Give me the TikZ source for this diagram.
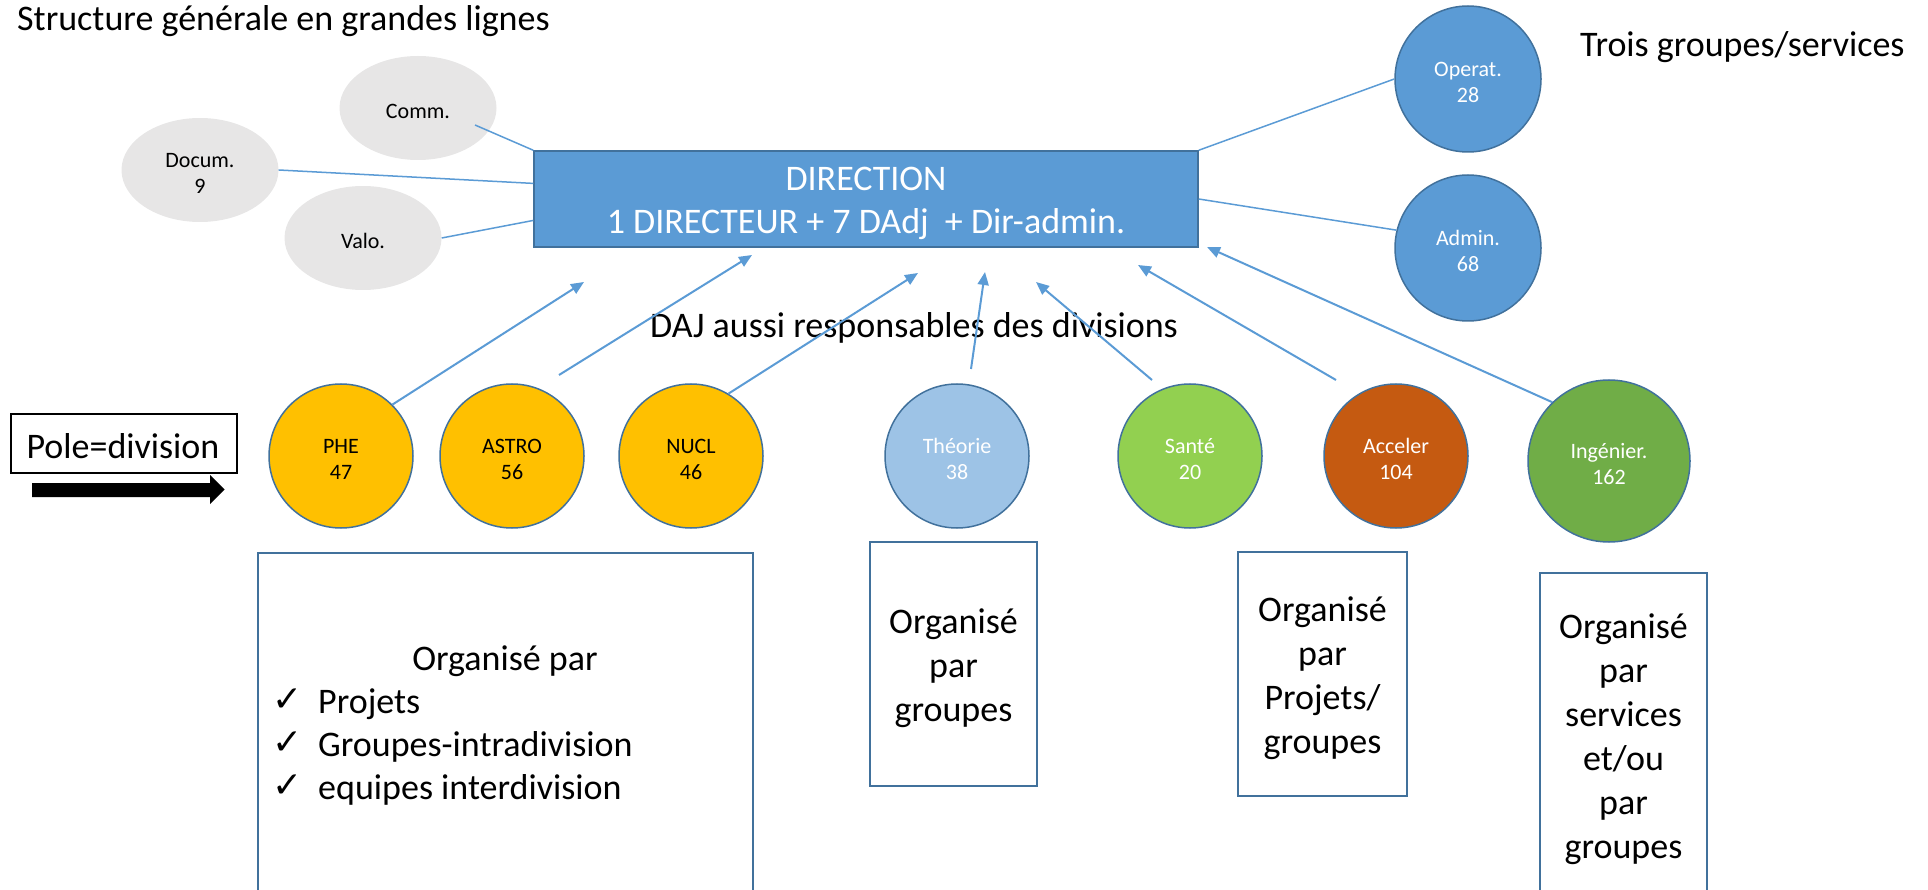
\documentclass[tikz,border=0pt]{standalone}
\usepackage{fontspec}
\setmainfont{Carlito}
\newfontfamily\symfont{DejaVu Sans}
\usetikzlibrary{shapes.geometric,arrows.meta,calc}
\definecolor{blueF}{HTML}{5B9BD5}
\definecolor{blueD}{HTML}{41719C}
\definecolor{greyF}{HTML}{E7E6E6}
\definecolor{goldF}{HTML}{FFC000}
\definecolor{lblueF}{HTML}{9DC3E6}
\definecolor{lgreenF}{HTML}{92D050}
\definecolor{orangeF}{HTML}{C55A11}
\definecolor{greenF}{HTML}{70AD47}
\begin{document}
\begin{tikzpicture}[x=1pt,y=-1pt,
  big/.style={font=\fontsize{36}{43}\selectfont},
  boxtxt/.style={font=\fontsize{36}{44}\selectfont, align=center},
  small/.style={font=\fontsize{22}{26}\selectfont, align=center},
  greyell/.style={ellipse, fill=greyF, minimum width=157pt, minimum height=104pt, inner sep=0pt},
  divc/.style={circle, draw=blueD, line width=1.5pt, minimum size=144pt, inner sep=0pt},
  link/.style={blueF, line width=1.5pt},
  arr/.style={blueF, line width=2pt, -{Triangle[length=13pt,width=11pt]}},
  tbox/.style={draw=blueD, line width=2pt, inner sep=0pt},
  ck/.style={font=\symfont\fontsize{36}{40}\selectfont, anchor=base west, inner sep=0pt}]
\useasboundingbox (0,0) rectangle (1928,890);
\clip (0,0) rectangle (1928,890);

% titles
\node[big, anchor=base west, inner sep=0pt] (title) at (17,31) {Structure générale en grandes lignes};
\node[big, anchor=base west, inner sep=0pt] (trois) at (1580,57) {Trois groupes/services};
\node[big, anchor=base west, inner sep=0pt] (daj) at (650,338) {DAJ aussi responsables des divisions};

% side services
\node[greyell] (comm) at (418,108) {};
\node[greyell] (docum) at (200,170) {};
\node[greyell] (valo) at (363,238) {};
\node[small] (commT) at ($(comm)+(0,3)$) {Comm.};
\node[small] (documT) at ($(docum)+(0,3)$) {Docum.\\9};
\node[small] (valoT) at ($(valo)+(0,3)$) {Valo.};

% direction
\node[rectangle, fill=blueF, draw=blueD, line width=1.5pt, minimum width=664pt, minimum height=96pt] (dir) at (866,199) {};
\node[text=white, align=center, big] (dirT) at ($(dir)+(0,4)$) {DIRECTION\\1 DIRECTEUR + 7 DAdj~~+ Dir-admin.};

\node[divc, fill=blueF, minimum size=146pt] (operat) at (1468,79) {};
\node[divc, fill=blueF, minimum size=146pt] (admin) at (1468,248) {};
\node[small, text=white] (operatT) at ($(operat)+(0,3)$) {Operat.\\28};
\node[small, text=white] (adminT) at ($(admin)+(0,3)$) {Admin.\\68};

% pole = division
\node[draw=black, line width=1.2pt, minimum width=226pt, minimum height=59pt] (pole) at (124,443.5) {};
\node[big] (poleT) at ($(pole)+(-1,3)$) {Pole=division};
\fill[black] (32,483) -- (210,483) -- (210,475) -- (224.5,489.5) -- (210,504) -- (210,497) -- (32,497) -- cycle;

% divisions
\node[divc, fill=goldF] (phe) at (341,456) {};
\node[divc, fill=goldF] (astro) at (512,456) {};
\node[divc, fill=goldF] (nucl) at (691,456) {};
\node[divc, fill=lblueF] (theo) at (957,456) {};
\node[divc, fill=lgreenF] (sante) at (1190,456) {};
\node[divc, fill=orangeF] (acc) at (1396,456) {};
\node[divc, fill=greenF, minimum size=162pt] (ing) at (1609,461) {};
\node[small] (pheT) at ($(phe)+(0,3)$) {PHE\\47};
\node[small] (astroT) at ($(astro)+(0,3)$) {ASTRO\\56};
\node[small] (nuclT) at ($(nucl)+(0,3)$) {NUCL\\46};
\node[small, text=white] (theoT) at ($(theo)+(0,3)$) {Théorie\\38};
\node[small, text=white] (santeT) at ($(sante)+(0,3)$) {Santé\\20};
\node[small, text=white] (accT) at ($(acc)+(0,3)$) {Acceler\\104};
\node[small, text=white] (ingT) at ($(ing)+(0,3)$) {Ingénier.\\162};

% organisation boxes
\node[tbox, minimum width=495pt, minimum height=400pt, anchor=north west] (projbox) at (257,552) {};
\node[big, anchor=base, inner sep=0pt] (orgpar) at (505,670) {Organisé par};
\node[ck] (ck1) at (272,711) {✓};
\node[ck] (ck2) at (272,754) {✓};
\node[ck] (ck3) at (272,797) {✓};
\node[big, anchor=base west, inner sep=0pt] (it1) at (318,713) {Projets};
\node[big, anchor=base west, inner sep=0pt] (it2) at (318,756) {Groupes-intradivision};
\node[big, anchor=base west, inner sep=0pt] (it3) at (318,799) {equipes interdivision};

\node[tbox, minimum width=167pt, minimum height=244pt] (theobox) at (953.5,664) {};
\node[tbox, minimum width=169pt, minimum height=244pt] (accbox) at (1322.5,674) {};
\node[tbox, minimum width=167pt, minimum height=324pt] (ingbox) at (1623.5,735) {};
\node[boxtxt] (theoboxT) at ($(theobox)+(0,4)$) {Organisé\\par\\groupes};
\node[boxtxt] (accboxT) at ($(accbox)+(0,4)$) {Organisé\\par\\Projets/\\groupes};
\node[boxtxt] (ingboxT) at ($(ingbox)+(0,4)$) {Organisé\\par\\services\\et/ou\\par\\groupes};

% links to direction
\coordinate (cs) at ($(comm)+(57,17)$);
\draw[link] (cs) -- (dir.north west);
\draw[link] (docum.east) -- ($(dir.north west)!0.34!(dir.south west)$);
\draw[link] (valo.east) -- ($(dir.north west)!0.72!(dir.south west)$);
\draw[link] (operat.west) -- (dir.north east);
\draw[link] (admin.166) -- (dir.east);

% arrows from divisions
\coordinate (h1) at (584,282);
\coordinate (h2) at (752,255);
\coordinate (h3) at (918,273);
\coordinate (h4) at (985,272);
\coordinate (h5) at (1036,282);
\coordinate (h6) at (1138,265);
\coordinate (h7) at (1207,247);
\coordinate (s2) at ($(astro)+(47,-81)$);
\coordinate (s4) at ($(theo)+(14,-87)$);
\coordinate (s5) at ($(sante)+(-38,-76)$);
\coordinate (s6) at ($(acc)+(-60,-76)$);
\draw[arr] (phe.45) -- (h1);
\draw[arr] (s2) -- (h2);
\draw[arr] (nucl.59) -- (h3);
\draw[arr] (s4) -- (h4);
\draw[arr] (s5) -- (h5);
\draw[arr] (s6) -- (h6);
\draw[arr] (ing.134) -- (h7);
\end{tikzpicture}
\end{document}
